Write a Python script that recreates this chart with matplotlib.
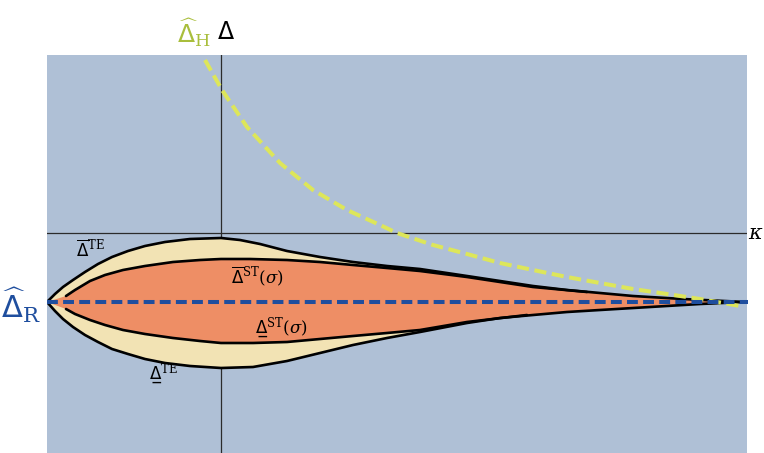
"""
Sketch of the gap regions: thermal-equilibrium and steady-state bounds
around the residual gap, with the high-field gap curve.
"""

import numpy as np
import matplotlib.pyplot as plt

### Data (kappa horizontal, Delta vertical)
# outer bounds (TE)
te_up_x = [-1.74, -1.66, -1.58, -1.48, -1.36, -1.23, -1.09, -0.93, -0.76, -0.56,
           -0.31, 0.00, 0.19, 0.39, 0.66, 0.99, 1.32, 1.66, 1.99, 2.46, 2.79,
           3.12, 3.46, 3.79, 4.12, 4.62, 5.24]
te_up_y = [-0.69, -0.61, -0.54, -0.47, -0.39, -0.31, -0.24, -0.18, -0.13, -0.09,
           -0.06, -0.05, -0.07, -0.11, -0.18, -0.24, -0.29, -0.33, -0.36, -0.43,
           -0.48, -0.53, -0.57, -0.60, -0.63, -0.66, -0.69]
te_lo_x = [-1.74, -1.66, -1.58, -1.48, -1.36, -1.23, -1.09, -0.93, -0.76, -0.56,
           -0.31, 0.00, 0.32, 0.66, 0.99, 1.32, 1.66, 1.99, 2.46, 2.79, 3.12,
           3.46, 3.79, 4.29, 4.79, 5.24]
te_lo_y = [-0.69, -0.78, -0.86, -0.94, -1.02, -1.09, -1.16, -1.21, -1.26, -1.30,
           -1.33, -1.35, -1.34, -1.28, -1.20, -1.12, -1.05, -0.99, -0.90, -0.85,
           -0.82, -0.79, -0.77, -0.74, -0.71, -0.69]

# inner bounds (ST)
st_up_x = [-1.55, -1.46, -1.31, -1.16, -0.98, -0.76, -0.48, -0.21, 0.00, 0.29,
           0.66, 0.99, 1.32, 1.66, 1.99, 2.46, 3.12, 3.66]
st_up_y = [-0.63, -0.57, -0.48, -0.42, -0.37, -0.33, -0.29, -0.27, -0.26, -0.26,
           -0.27, -0.29, -0.32, -0.35, -0.38, -0.44, -0.54, -0.59]
st_lo_x = [-1.55, -1.46, -1.31, -1.16, -0.98, -0.76, -0.48, -0.21, 0.00, 0.32,
           0.66, 0.99, 1.32, 1.66, 1.99, 2.46, 3.06]
st_lo_y = [-0.76, -0.81, -0.87, -0.92, -0.97, -1.01, -1.05, -1.08, -1.10, -1.10,
           -1.09, -1.06, -1.03, -1.00, -0.97, -0.89, -0.82]

# high-field gap (dashed yellow)
dh_x = [-0.16, 0.01, 0.26, 0.59, 0.92, 1.26, 1.59, 1.76, 2.12, 2.46, 2.79,
        3.12, 3.46, 3.79, 4.12, 4.46, 4.79, 5.19]
dh_y = [1.73, 1.43, 1.06, 0.70, 0.43, 0.23, 0.08, 0.00, -0.12, -0.21, -0.30,
        -0.37, -0.44, -0.50, -0.56, -0.61, -0.66, -0.73]

# residual gap level (dashed blue)
dr_x = [-1.74, 5.27]
dr_y = [-0.69, -0.69]

### Colours
bg_col     = '#AFC0D6'
cream_col  = '#F2E3B4'
orange_col = '#EE8E65'
blue_col   = '#1F4E9E'
yellow_col = '#DDE65A'
olive_col  = '#A9BE3C'

plt.rcParams['mathtext.fontset'] = 'dejavuserif'

### Plot
fig = plt.figure(figsize=(7.64, 4.53), dpi=100)
ax = fig.add_axes([47 / 764, 0, 700 / 764, 398 / 453])
ax.set_facecolor(bg_col)
ax.set_xlim(-1.74, 5.26)
ax.set_ylim(-2.20, 1.78)
for sp in ax.spines.values():
    sp.set_visible(False)
ax.set_xticks([])
ax.set_yticks([])

# axes cross
ax.axvline(0, color='#2b2b2b', lw=0.9, zorder=1)
ax.axhline(0, color='#2b2b2b', lw=0.9, zorder=1)

# filled regions
te_up_x, te_up_y = np.array(te_up_x), np.array(te_up_y)
te_lo_x, te_lo_y = np.array(te_lo_x), np.array(te_lo_y)
ax.fill(np.concatenate([te_up_x, te_lo_x[::-1]]),
        np.concatenate([te_up_y, te_lo_y[::-1]]),
        color=cream_col, lw=0, zorder=2)

up_tail = te_up_x > st_up_x[-1]
lo_tail = te_lo_x > st_lo_x[-1]
orange_x = np.concatenate([[dr_x[0]], st_up_x, te_up_x[up_tail],
                           te_lo_x[lo_tail][::-1], st_lo_x[::-1]])
orange_y = np.concatenate([[dr_y[0]], st_up_y, te_up_y[up_tail],
                           te_lo_y[lo_tail][::-1], st_lo_y[::-1]])
ax.fill(orange_x, orange_y, color=orange_col, lw=0, zorder=3)

# outlines
for xs, ys in [(te_up_x, te_up_y), (te_lo_x, te_lo_y),
               (st_up_x, st_up_y), (st_lo_x, st_lo_y)]:
    ax.plot(xs, ys, color='black', lw=1.9, solid_joinstyle='round',
            solid_capstyle='round', zorder=4)

# dashed curves
ax.plot(dh_x, dh_y, color=yellow_col, lw=2.9, dashes=(3.0, 1.4),
        dash_capstyle='butt', zorder=5)
ax.plot(dr_x, dr_y, color=blue_col, lw=2.9, dashes=(2.7, 1.3),
        dash_capstyle='butt', zorder=6, clip_on=False)

# labels
ax.text(-1.80, -0.72, r'$\widehat{\mathsf{\Delta}}_{\mathrm{R}}$', color=blue_col,
        fontsize=22, ha='right', va='center')
ax.text(-0.27, 2.00, r'$\widehat{\mathsf{\Delta}}_{\mathrm{H}}$', color=olive_col,
        fontsize=18, ha='center', va='center')
ax.text(0.05, 2.01, 'Δ', color='black', fontsize=17, ha='center', va='center')
ax.text(5.275, 0.0, r'$\kappa$', color='black', fontsize=15, ha='left', va='center')

ax.text(-1.31, -0.17, r'$\overline{\mathsf{\Delta}}^{\mathrm{TE}}$', fontsize=12,
        ha='center', va='center', zorder=7)
ax.text(0.36, -0.43, r'$\overline{\mathsf{\Delta}}^{\mathrm{ST}}(\sigma)$', fontsize=12,
        ha='center', va='center', zorder=7)
ax.text(0.60, -0.95, 'Δ\u0332' + r'$^{\mathrm{ST}}(\sigma)$', fontsize=12,
        ha='center', va='center', zorder=7)
ax.text(-0.58, -1.41, 'Δ\u0332' + r'$^{\mathrm{TE}}$', fontsize=12,
        ha='center', va='center', zorder=7)

plt.savefig('out.png', dpi=100)
